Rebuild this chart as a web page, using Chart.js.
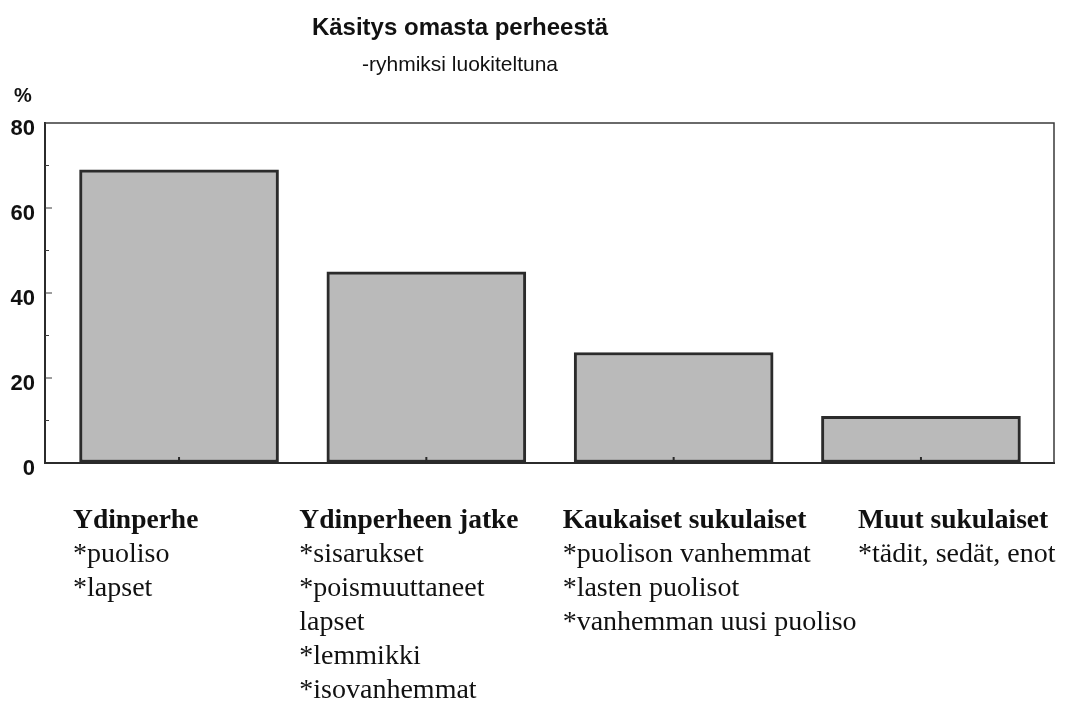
<!DOCTYPE html>
<html>
<head>
<meta charset="utf-8">
<script src="https://cdn.jsdelivr.net/npm/chart.js@4.4.1/dist/chart.umd.min.js"></script>
<style>
  html, body { margin: 0; padding: 0; background: #fff; }
  canvas { display: block; }
</style>
</head>
<body>
<canvas id="chart" width="1065" height="704"></canvas>
<script>
// data
const groups = ['Ydinperhe', 'Ydinperheen jatke', 'Kaukaiset sukulaiset', 'Muut sukulaiset'];
const members = [
    ['*puoliso', '*lapset'],
    ['*sisarukset', '*poismuuttaneet', 'lapset', '*lemmikki', '*isovanhemmat'],
    ['*puolison vanhemmat', '*lasten puolisot', '*vanhemman uusi puoliso'],
    ['*tädit, sedät, enot']
];
const shares = [69, 45, 26, 11];
const yTicks = [0, 20, 40, 60, 80];

const titleText = 'Käsitys omasta perheestä';
const subtitleText = '-ryhmiksi luokiteltuna';

// where each group text block starts, relative to its bar centre
const labelShift = [-106, -127, -111, -63];

const textPlugin = {
    id: 'texts',
    afterDatasetsDraw: function (chart) {
        const ctx = chart.ctx;
        const area = chart.chartArea;
        const x = chart.scales.x;
        const y = chart.scales.y;
        ctx.save();

        // frame round the plot
        ctx.strokeStyle = '#3a3a3a';
        ctx.lineWidth = 1.5;
        ctx.beginPath();
        ctx.moveTo(area.left, area.top);
        ctx.lineTo(area.right, area.top);
        ctx.lineTo(area.right, area.bottom);
        ctx.stroke();

        // inward ticks on the value axis
        ctx.lineWidth = 1;
        for (let v = 10; v < 80; v += 10) {
            const py = y.getPixelForValue(v);
            ctx.beginPath();
            ctx.moveTo(area.left, py);
            ctx.lineTo(area.left + (v % 20 === 0 ? 7 : 4), py);
            ctx.stroke();
        }
        // small ticks at the bar centres
        ctx.lineWidth = 2;
        ctx.strokeStyle = '#2a2a2a';
        shares.forEach(function (s, i) {
            const px = x.getPixelForValue(i);
            ctx.beginPath();
            ctx.moveTo(px, area.bottom);
            ctx.lineTo(px, area.bottom - 6);
            ctx.stroke();
        });

        ctx.fillStyle = '#111';
        ctx.textBaseline = 'alphabetic';

        ctx.textAlign = 'center';
        ctx.font = 'bold 24px "Liberation Sans", Arial, sans-serif';
        ctx.fillText(titleText, 460, 35);
        ctx.font = '21px "Liberation Sans", Arial, sans-serif';
        ctx.fillText(subtitleText, 460, 71);

        ctx.textAlign = 'left';
        ctx.font = 'bold 20px "Liberation Sans", Arial, sans-serif';
        ctx.fillText('%', 14, 102);

        // group names and their members under the bars
        groups.forEach(function (g, i) {
            const lx = x.getPixelForValue(i) + labelShift[i];
            ctx.font = 'bold 27.5px "Liberation Serif", "Times New Roman", serif';
            ctx.fillText(g, lx, 528);
            ctx.font = '28px "Liberation Serif", "Times New Roman", serif';
            members[i].forEach(function (m, j) {
                ctx.fillText(m, lx, 562 + j * 34);
            });
        });
        ctx.restore();
    }
};

new Chart(document.getElementById('chart'), {
    type: 'bar',
    data: {
        datasets: [{
            data: shares.map(function (v, i) { return { x: i, y: v }; }),
            backgroundColor: '#bababa',
            borderColor: '#2b2b2b',
            borderWidth: 3,
            borderSkipped: false,
            barThickness: 199
        }]
    },
    options: {
        responsive: false,
        devicePixelRatio: 1,
        animation: false,
        layout: { padding: { left: 0, right: 11, top: 123, bottom: 241 } },
        plugins: {
            legend: { display: false },
            tooltip: { enabled: false }
        },
        scales: {
            x: {
                type: 'linear',
                offset: false,
                min: -0.542,
                max: 3.538,
                grid: { display: false, drawTicks: false },
                border: { display: true, color: '#2b2b2b', width: 2 },
                ticks: { display: false },
                afterFit: function (scale) { scale.height = 0; }
            },
            y: {
                min: 0,
                max: 80,
                afterBuildTicks: function (scale) {
                    scale.ticks = yTicks.map(function (v) { return { value: v }; });
                },
                grid: { drawOnChartArea: false, drawTicks: false },
                border: { display: true, color: '#2b2b2b', width: 2 },
                ticks: {
                    padding: 10,
                    labelOffset: 6,
                    color: '#111',
                    font: { family: '"Liberation Sans", Arial, sans-serif', size: 22, weight: 'bold' }
                },
                afterFit: function (scale) { scale.width = 45; }
            }
        }
    },
    plugins: [textPlugin]
});
</script>
</body>
</html>
